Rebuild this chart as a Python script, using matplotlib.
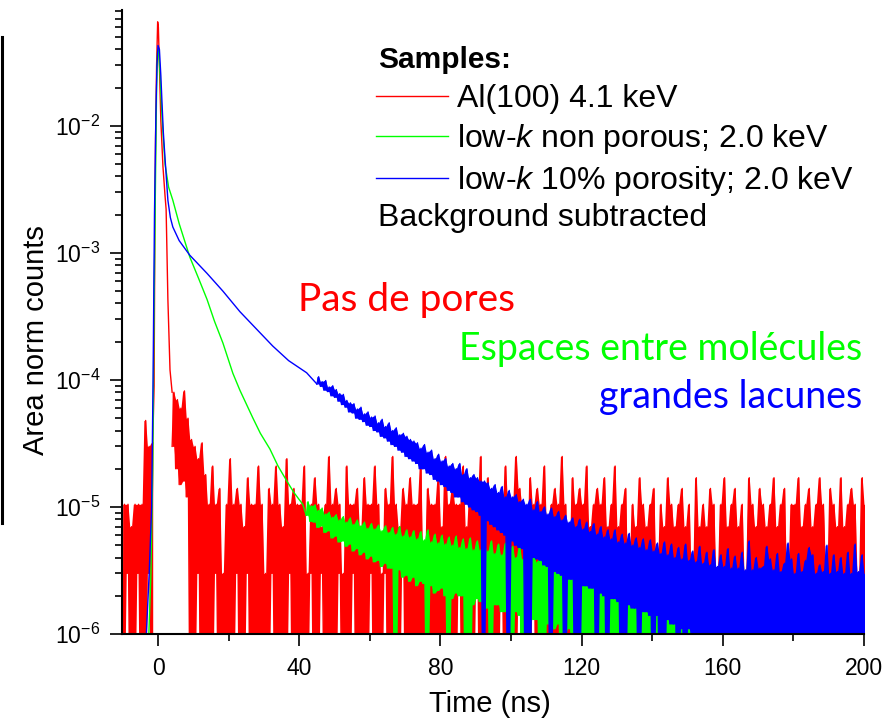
import numpy as np
import matplotlib
matplotlib.use('Agg')
import matplotlib.pyplot as plt
from matplotlib.ticker import LogLocator, MultipleLocator, NullFormatter
from matplotlib.lines import Line2D

plt.rcParams['font.family'] = ['Liberation Sans', 'DejaVu Sans']
plt.rcParams['mathtext.fontset'] = 'custom'
plt.rcParams['mathtext.rm'] = 'Liberation Sans'
plt.rcParams['mathtext.it'] = 'Liberation Sans:italic'
plt.rcParams['mathtext.bf'] = 'Liberation Sans:bold'
plt.rcParams['axes.unicode_minus'] = False

# --- Al(100), red ---------------------------------------------------------
# noisy bins before the peak (t = -10 .. -2 ns), max / min per bin in 1e-6
red_pre_hi = [10.5, 10.5, 7, 10.5, 10.5, 10.5, 48, 30, 32]
red_pre_lo = [0.3, 3, 0.3, 0.3, 3, 0.3, 0.3, 3, 0.3]
# peak, read as points
red_peak_t = [-1.5, -1.1, -0.9, -0.7, -0.4, -0.1, 0.1, 0.4, 0.8, 1.4, 2.0, 2.3, 2.8, 3.4, 4.0]
red_peak_y = [3.2e-5, 9e-5, 1.5e-3, 8e-3, 0.03, 0.066, 0.06, 0.03, 0.011, 4.8e-3, 2.8e-3,
              2.2e-3, 4.3e-4, 1.2e-4, 8e-5]
# tail bins t = 4 .. 200 ns (1 ns), max / min per bin in 1e-6
red_tail_hi = [
    80, 70, 60, 82, 50, 34, 30, 24, 32, 18,
    10.5, 21, 10.5, 14, 3, 10.5, 24, 10.5, 14, 10.5,
    7, 17, 10.5, 10.5, 21, 10.5, 3, 14, 10.5, 21,
    10.5, 7, 24, 10.5, 14, 10.5, 10.5, 21, 3, 10.5,
    17, 10.5, 7, 10.5, 25, 10.5, 14, 10.5, 3, 21,
    10.5, 10.5, 14, 7, 17, 10.5, 10.5, 21, 10.5, 3,
    14, 10.5, 25, 10.5, 7, 14, 10.5, 17, 10.5, 10.5,
    21, 3, 14, 10.5, 10.5, 17, 7, 25, 10.5, 14,
    10.5, 10.5, 21, 7, 14, 10.5, 10.5, 25, 3, 17,
    10.5, 14, 10.5, 7, 21, 10.5, 10.5, 25, 14, 10.5,
    3, 17, 10.5, 14, 10.5, 21, 7, 10.5, 14, 10.5,
    25, 10.5, 3, 17, 10.5, 14, 10.5, 21, 7, 10.5,
    14, 10.5, 17, 7, 10.5, 21, 7, 10.5, 14, 3,
    10.5, 7, 17, 10.5, 7, 10.5, 14, 3, 10.5, 7,
    17, 10.5, 7, 10.5, 14, 7, 10.5, 3, 17, 7,
    10.5, 7, 14, 10.5, 3, 10.5, 17, 7, 10.5, 14,
    7, 10.5, 3, 17, 10.5, 7, 14, 10.5, 7, 10.5,
    17, 7, 10.5, 14, 3, 10.5, 10.5, 17, 7, 10.5,
    14, 7, 10.5, 17, 10.5, 3, 14, 10.5, 7, 17,
    7, 10.5, 14, 10.5, 3, 17, 10.5,
]
red_tail_lo = [
    30, 20, 15, 16, 12, 0.3, 0.3, 3, 0.3, 0.3,
    0.3, 0.3, 3, 0.3, 0.3, 0.3, 0.3, 0.3, 3, 0.3,
    0.3, 3, 0.3, 0.3, 0.3, 0.3, 0.3, 0.3, 3, 0.3,
    0.3, 0.3, 0.3, 3, 0.3, 0.3, 0.3, 0.3, 0.3, 3,
    0.3, 0.3, 3, 0.3, 0.3, 0.3, 0.3, 3, 0.3, 0.3,
    0.3, 3, 0.3, 0.3, 0.3, 0.3, 3, 0.3, 0.3, 0.3,
    3, 0.3, 0.3, 0.3, 0.3, 3, 0.3, 0.3, 0.3, 0.3,
    0.3, 0.3, 3, 0.3, 0.3, 0.3, 0.3, 0.3, 3, 0.3,
    0.3, 3, 0.3, 0.3, 0.3, 0.3, 3, 0.3, 0.3, 0.3,
    0.3, 0.3, 0.3, 3, 0.3, 0.3, 0.3, 0.3, 3, 0.3,
    0.3, 0.3, 3, 0.3, 0.3, 0.3, 0.3, 3, 0.3, 0.3,
    3, 0.3, 0.3, 0.3, 0.3, 3, 0.3, 0.3, 0.3, 0.3,
    0.3, 0.3, 0.3, 3, 0.3, 0.3, 0.3, 0.3, 3, 0.3,
    0.3, 3, 0.3, 0.3, 0.3, 0.3, 3, 0.3, 0.3, 0.3,
    0.3, 0.3, 3, 0.3, 0.3, 0.3, 0.3, 0.3, 3, 0.3,
    3, 0.3, 0.3, 0.3, 0.3, 3, 0.3, 0.3, 0.3, 0.3,
    0.3, 0.3, 0.3, 3, 0.3, 0.3, 0.3, 3, 0.3, 0.3,
    0.3, 3, 0.3, 0.3, 0.3, 0.3, 0.3, 3, 0.3, 0.3,
    3, 0.3, 0.3, 0.3, 0.3, 3, 0.3, 0.3, 0.3, 0.3,
    0.3, 0.3, 3, 0.3, 0.3, 0.3, 0.3,
]

# --- low-k non porous, green ------------------------------------------------
green_t = [-3.0, -2.6, -2.0, -1.5, -1.1, -0.7, -0.4, -0.1, 0.2, 0.6, 1.0, 1.5, 2.0,
           3.0, 4.2, 6.0, 9.0, 11.5, 13.9, 16.0, 18.4, 21.2, 23.2, 26.9, 29.0, 31.7,
           34.0, 36.5, 38.5, 41.0, 42.0]
green_y = [3e-7, 1e-6, 3e-6, 2e-5, 4e-4, 4e-3, 0.02, 0.04, 0.038, 0.025, 0.014, 8e-3,
           5e-3, 3.3e-3, 2.6e-3, 1.7e-3, 9.3e-4, 6.3e-4, 4.3e-4, 2.9e-4, 1.95e-4, 1.13e-4,
           8.3e-5, 5.0e-5, 3.8e-5, 2.86e-5, 2.1e-5, 1.6e-5, 1.3e-5, 1.05e-5, 8.6e-6]
# tail bins t = 42 .. 200 ns, in 1e-6
green_tail_hi = [
    11, 10.2, 10.4, 9.4, 9.8, 8.8, 9.1, 8.3, 8.7, 7.9,
    8.4, 7.6, 8.2, 7.3, 7.9, 7.1, 7.6, 6.8, 7.4, 6.7,
    7.2, 6.5, 7.1, 6.3, 6.9, 6.1, 7.0, 5.9, 6.6, 5.8,
    6.5, 5.6, 6.4, 5.5, 6.6, 5.3, 6.1, 5.2, 6.0, 5.1,
    5.8, 5.0, 5.9, 4.8, 5.6, 4.7, 5.7, 4.6, 5.4, 4.6,
    5.3, 4.5, 5.4, 4.3, 5.1, 4.2, 5.2, 4.1, 4.9, 4.0,
    4.9, 3.9, 4.8, 3.8, 4.7, 3.7, 4.6, 3.6, 4.5, 3.5,
    4.3, 3.3, 4.2, 3.2, 4.1, 3.1, 3.9, 3.0, 3.8, 2.9,
    3.6, 2.8, 3.6, 2.6, 3.4, 2.5, 3.2, 2.4, 3.1, 2.3,
    2.9, 2.2, 3.1, 2.1, 2.7, 2.0, 2.9, 2.0, 2.5, 1.9,
    2.7, 1.8, 2.3, 1.9, 2.9, 1.7, 2.2, 1.8, 2.5, 1.6,
    2.1, 1.7, 2.7, 1.6, 2.0, 1.8, 2.4, 1.5, 2.2, 1.7,
    2.6, 1.5, 2.0, 1.7, 2.3, 1.5, 2.8, 1.6, 2.0, 1.5,
    2.2, 1.6, 2.5, 1.5, 2.1, 1.7, 2.4, 1.5, 2.9, 1.6,
    2.0, 1.5, 2.3, 1.6, 2.6, 1.5, 2.1, 1.7, 2.4, 1.5,
    2.2, 1.6, 2.7, 1.5, 2.0, 1.7, 2.5, 1.6, 2.2,
]
green_tail_lo = [
    8.6, 7.7, 7.6, 6.9, 7.1, 6.3, 6.5, 5.7, 5.9, 5.3,
    5.4, 4.9, 5.1, 4.5, 4.7, 4.2, 4.4, 3.9, 4.1, 3.7,
    3.8, 3.4, 3.6, 3.3, 3.3, 0.3, 3.2, 2.8, 2.9, 2.6,
    2.8, 2.4, 2.6, 2.5, 0.3, 2.4, 2.1, 2.2, 2.3, 2.0,
    0.3, 1.9, 2.1, 2.0, 2.0, 0.3, 0.3, 1.7, 1.9, 1.8,
    1.8, 1.6, 0.3, 1.7, 1.7, 1.5, 1.5, 1.6, 0.3, 1.5,
    1.4, 0.3, 1.3, 1.4, 1.3, 1.3, 0.3, 0.3, 1.2, 1.1,
    1.1, 1.2, 0.3, 1.0, 1.1, 1.0, 0.3, 0.9, 1.0, 0.3,
    0.9, 0.3, 0.8, 0.9, 0.3, 0.3, 0.7, 0.8, 0.3, 0.7,
    0.3, 0.6, 0.3, 0.3, 0.6, 0.3, 0.3, 0.5, 0.3, 0.3,
    0.3, 0.5, 0.3, 0.3, 0.3, 0.5, 0.3, 0.3, 0.3, 0.5,
    0.3, 0.3, 0.5, 0.3, 0.3, 0.3, 0.5, 0.3, 0.3, 0.3,
    0.3, 0.5, 0.3, 0.3, 0.3, 0.3, 0.5, 0.3, 0.3, 0.3,
    0.3, 0.3, 0.5, 0.3, 0.3, 0.3, 0.3, 0.5, 0.3, 0.3,
    0.5, 0.3, 0.3, 0.3, 0.5, 0.3, 0.3, 0.3, 0.3, 0.5,
    0.3, 0.3, 0.3, 0.5, 0.3, 0.3, 0.3, 0.5, 0.3,
]

# --- low-k 10% porosity, blue -----------------------------------------------
blue_t = [-4.0, -3.3, -2.5, -1.8, -1.4, -1.0, -0.6, -0.3, 0.0, 0.4, 0.8, 1.1, 1.5,
          2.0, 2.8, 3.5, 4.2, 6.0, 9.0, 13.9, 18.4, 23.2, 28.0, 32.5, 37.0, 42.1, 45.0]
blue_y = [3e-7, 1e-6, 3e-6, 1e-5, 1e-4, 2e-3, 0.012, 0.03, 0.043, 0.04, 0.025, 0.016,
          9e-3, 5.5e-3, 2.6e-3, 1.9e-3, 1.6e-3, 1.25e-3, 9.6e-4, 6.9e-4, 5.0e-4,
          3.45e-4, 2.5e-4, 1.85e-4, 1.42e-4, 1.14e-4, 9.3e-5]
# tail bins t = 45 .. 200 ns, in 1e-6
blue_tail_hi = [
    106, 97, 99, 88, 90, 84, 78, 77, 69, 66,
    65, 59, 61, 54, 56, 51, 52, 46, 49, 43,
    46, 40, 42, 37, 38, 36, 34, 33, 32, 29,
    31, 27, 28, 24, 26, 23, 24, 21, 22, 20,
    22, 18, 20, 17, 18, 17, 16, 16, 15.5, 14,
    15, 13, 14.5, 12, 13.5, 12, 12.5, 11, 11.5, 10.5,
    11.5, 9.5, 11, 9.2, 10, 8.8, 9.8, 8.4, 9.2, 7.9,
    8.6, 7.6, 8.2, 7.0, 8.0, 6.7, 7.6, 6.4, 7.4, 6.1,
    7.0, 5.8, 6.6, 5.6, 6.6, 5.3, 6.1, 5.2, 6.2, 5.0,
    5.7, 4.8, 5.6, 4.6, 5.5, 4.5, 5.2, 4.3, 5.3, 4.2,
    5.1, 4.0, 4.8, 3.9, 5.1, 3.8, 4.5, 3.7, 4.9, 3.6,
    4.4, 3.5, 4.6, 3.4, 4.2, 3.4, 4.7, 3.3, 4.1, 3.3,
    4.4, 3.2, 5.4, 3.2, 4.0, 3.3, 3.4, 4.9, 3.9, 3.2,
    4.3, 3.1, 3.6, 5.2, 3.9, 3.0, 4.3, 3.1, 3.8, 4.8,
    4.2, 3.0, 3.5, 3.1, 5.0, 3.0, 4.2, 3.1, 4.0, 3.0,
    4.4, 3.0, 5.1, 3.1, 4.2, 3.0,
]
blue_tail_lo = [
    93, 89, 83, 81, 75, 73, 68, 64, 61, 56,
    55, 50, 49, 47, 44, 43, 40, 39, 36, 35,
    33, 31, 30, 28, 27, 25, 24, 23, 22, 20,
    20, 18.5, 18, 16.5, 16, 15, 14.5, 13.5, 13, 12,
    12, 11, 10.5, 10, 9.5, 9.2, 8.6, 0.3, 7.8, 7.3,
    7.0, 6.6, 6.3, 6.0, 0.3, 5.4, 5.0, 4.8, 4.7, 0.3,
    0.3, 4.0, 3.9, 3.8, 3.5, 3.4, 0.3, 3.1, 3.0, 2.9,
    0.3, 2.7, 2.7, 0.3, 0.3, 2.4, 2.4, 2.3, 2.3, 0.3,
    2.1, 2.0, 0.3, 1.9, 1.9, 1.8, 0.3, 0.3, 1.7, 1.6,
    1.6, 0.3, 1.5, 1.5, 1.4, 0.3, 1.4, 0.3, 0.3, 1.3,
    1.2, 1.2, 0.3, 1.1, 0.3, 1.1, 1.0, 1.0, 0.3, 0.3,
    1.0, 0.3, 0.9, 0.9, 0.3, 0.9, 0.3, 0.8, 0.8, 0.3,
    0.3, 0.8, 0.3, 0.7, 0.3, 0.3, 0.8, 0.3, 0.7, 0.3,
    0.7, 0.3, 0.3, 0.8, 0.3, 0.7, 0.3, 0.3, 0.7, 0.3,
    0.3, 0.7, 0.3, 0.3, 0.8, 0.3, 0.3, 0.7, 0.3, 0.3,
    0.7, 0.3, 0.3, 0.7, 0.3, 0.3,
]

labels = ['Al(100) 4.1 keV', 'low-$k$ non porous; 2.0 keV', 'low-$k$ 10% porosity; 2.0 keV']
colors = ['#ff0000', '#00ff00', '#0000ff']

fig = plt.figure(figsize=(8.9, 7.25), dpi=100)
ax = fig.add_axes([122 / 890, 91 / 725, 742 / 890, 624 / 725])


def noisy_trace(t0, hi, lo, color, z):
    # each 1 ns bin drawn as its minimum then its maximum; the span between is filled
    t = t0 + np.arange(len(hi), dtype=float)
    tt = np.column_stack([t, t + 0.5]).ravel()
    yy = np.column_stack([lo, hi]).ravel() * 1e-6
    low = np.column_stack([lo, lo]).ravel() * 1e-6
    high = np.column_stack([hi, hi]).ravel() * 1e-6
    ax.fill_between(tt, low, high, color=color, linewidth=0, zorder=z)
    ax.plot(tt, yy, color=color, lw=1.0, zorder=z + 0.01)


noisy_trace(-10, red_pre_hi, red_pre_lo, colors[0], 1.0)
noisy_trace(4, red_tail_hi, red_tail_lo, colors[0], 1.0)
noisy_trace(42, green_tail_hi, green_tail_lo, colors[1], 1.1)
noisy_trace(45, blue_tail_hi, blue_tail_lo, colors[2], 1.2)

handles = []
for (xs, ys), c, lab, z in zip([(red_peak_t, red_peak_y), (green_t, green_y), (blue_t, blue_y)],
                               colors, labels, [2.0, 2.1, 2.2]):
    ln, = ax.plot(xs, ys, color=c, lw=1.0, label=lab, zorder=z)
    handles.append(ln)

ax.set_yscale('log')
ax.set_xlim(-10.2, 200)
ax.set_ylim(1e-6, 0.0818)

ax.xaxis.set_major_locator(MultipleLocator(40))
ax.xaxis.set_minor_locator(MultipleLocator(20))
ax.yaxis.set_major_locator(LogLocator(base=10, numticks=10))
ax.yaxis.set_minor_locator(LogLocator(base=10, subs=np.arange(2, 10), numticks=20))
ax.yaxis.set_minor_formatter(NullFormatter())

for s in ['top', 'right']:
    ax.spines[s].set_visible(False)
for s in ['left', 'bottom']:
    ax.spines[s].set_linewidth(1.5)
    ax.spines[s].set_zorder(3)

ax.tick_params(which='major', length=8.5, width=1.2, labelsize=16.5, pad=7)
ax.tick_params(which='minor', length=5, width=1.2)
ax.tick_params(axis='x', which='major', pad=8)

ax.set_xlabel('Time (ns)', fontsize=21)
ax.set_ylabel('Area norm counts', fontsize=21)
ax.xaxis.set_label_coords(0.496, -0.09)
ax.yaxis.set_label_coords(-0.097, 0.471)

fig.text(378 / 890, 1 - 60 / 725, 'Samples:', fontsize=21.5, weight='bold', va='center', ha='left')
ax.legend(handles=handles, loc='upper left', bbox_to_anchor=(376 / 890, 1 - 84.5 / 725),
          bbox_transform=fig.transFigure, frameon=False, fontsize=23,
          handlelength=2.25, handletextpad=0.28, labelspacing=0.25,
          borderpad=0, borderaxespad=0)
fig.text(378 / 890, 1 - 218 / 725, 'Background subtracted', fontsize=23, va='center', ha='left')

ann_font = ['Lato', 'DejaVu Sans']
fig.text(298 / 890, 1 - 311 / 725, 'Pas de pores', color='#ff0000', fontsize=28,
         family=ann_font, ha='left', va='baseline')
fig.text(862 / 890, 1 - 360 / 725, 'Espaces entre molécules', color='#00ff00', fontsize=27,
         family=ann_font, ha='right', va='baseline')
fig.text(862 / 890, 1 - 408 / 725, 'grandes lacunes', color='#0000ff', fontsize=27,
         family=ann_font, ha='right', va='baseline')

# vertical bar at the far left edge of the slide
fig.add_artist(Line2D([0.0017, 0.0017], [1 - 523 / 725, 1 - 37 / 725],
                      transform=fig.transFigure, color='black', lw=2.2))

fig.savefig('out.png', dpi=100)
